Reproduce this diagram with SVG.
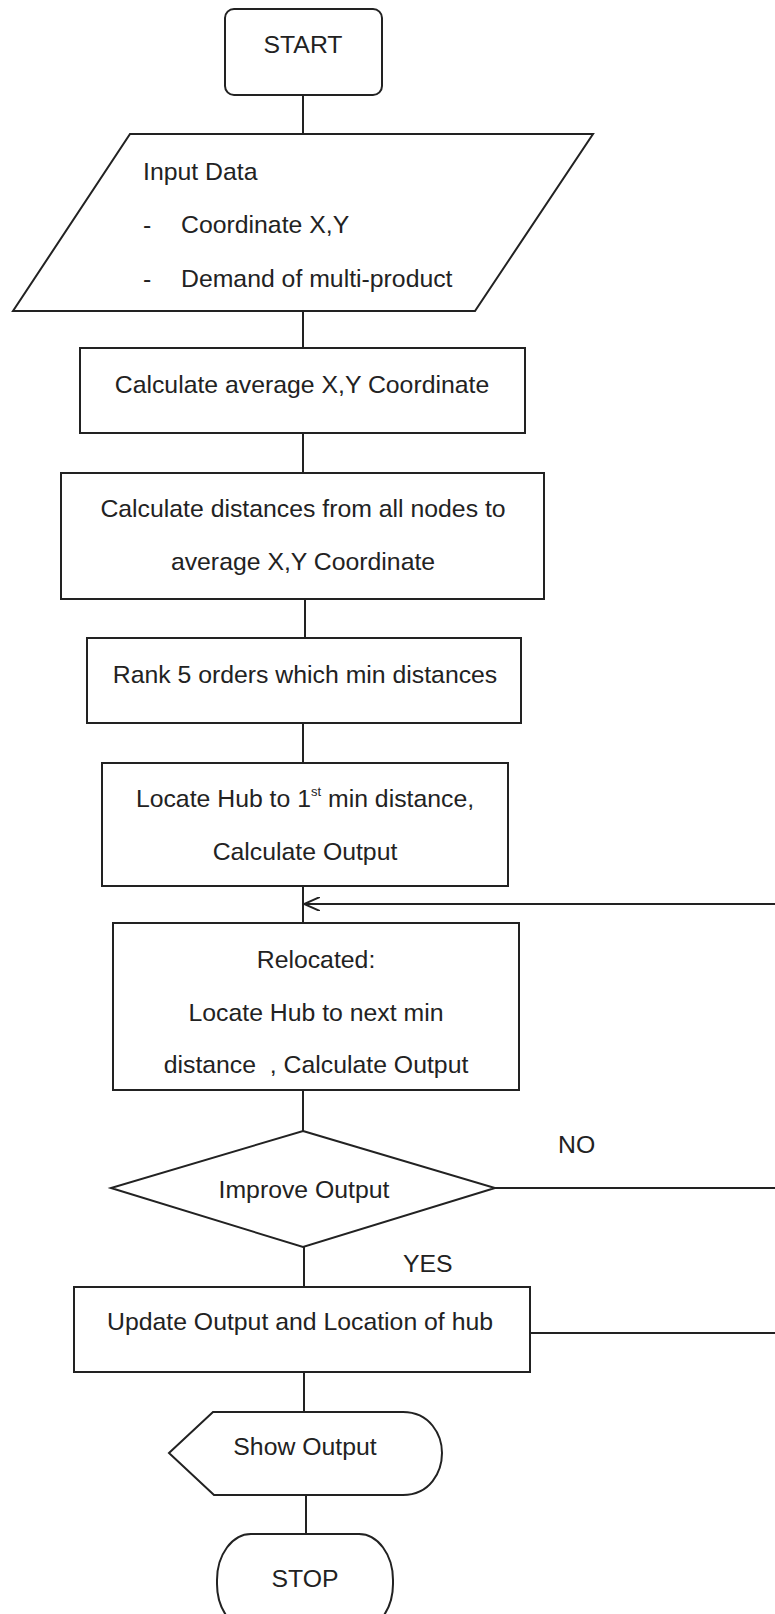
<svg xmlns="http://www.w3.org/2000/svg" width="775" height="1614" viewBox="0 0 775 1614">
<defs>
<style>
.s{fill:#fff;stroke:#222;stroke-width:2}
.c{fill:none;stroke:#222;stroke-width:2}
.t{font-family:"Liberation Sans",Arial,sans-serif;font-size:24.8px;fill:#222}
.m{text-anchor:middle}
</style>
<marker id="ah" viewBox="0 0 16 14" refX="16" refY="7" markerWidth="16" markerHeight="14" markerUnits="userSpaceOnUse" orient="auto">
<path d="M0,0 L16,7 L0,14" fill="none" stroke="#222" stroke-width="2"/>
</marker>
</defs>
<rect width="775" height="1614" fill="#fff"/>
<g id="connectors">
<line class="c" x1="303" y1="95" x2="303" y2="134"/>
<line class="c" x1="303" y1="311" x2="303" y2="348"/>
<line class="c" x1="303" y1="433" x2="303" y2="473"/>
<line class="c" x1="305" y1="599" x2="305" y2="638"/>
<line class="c" x1="303" y1="723" x2="303" y2="763"/>
<line class="c" x1="303" y1="886" x2="303" y2="923"/>
<line class="c" x1="775" y1="904" x2="304" y2="904" marker-end="url(#ah)"/>
<line class="c" x1="303" y1="1090" x2="303" y2="1131"/>
<line class="c" x1="495" y1="1188" x2="775" y2="1188"/>
<text class="t" x="558" y="1153">NO</text>
<line class="c" x1="304" y1="1247" x2="304" y2="1287"/>
<text class="t" x="403" y="1272">YES</text>
<line class="c" x1="530" y1="1333" x2="775" y2="1333"/>
<line class="c" x1="304" y1="1372" x2="304" y2="1412"/>
<line class="c" x1="306" y1="1495" x2="306" y2="1534"/>
</g>
<g id="start">
<rect class="s" x="225" y="9" width="157" height="86" rx="9"/>
<text class="t m" x="303" y="53">START</text>
</g>
<g id="input">
<polygon class="s" points="130,134 593,134 475,311 13,311"/>
<text class="t" x="143" y="180">Input Data</text>
<text class="t" x="143" y="233">-</text>
<text class="t" x="181" y="233">Coordinate X,Y</text>
<text class="t" x="143" y="287">-</text>
<text class="t" x="181" y="287">Demand of multi-product</text>
</g>
<g id="avg">
<rect class="s" x="80" y="348" width="445" height="85"/>
<text class="t m" x="302" y="393">Calculate average X,Y Coordinate</text>
</g>
<g id="dist">
<rect class="s" x="61" y="473" width="483" height="126"/>
<text class="t m" x="303" y="517">Calculate distances from all nodes to</text>
<text class="t m" x="303" y="570">average X,Y Coordinate</text>
</g>
<g id="rank">
<rect class="s" x="87" y="638" width="434" height="85"/>
<text class="t m" x="305" y="683">Rank 5 orders which min distances</text>
</g>
<g id="locate">
<rect class="s" x="102" y="763" width="406" height="123"/>
<text class="t m" x="305" y="807">Locate Hub to 1<tspan font-size="13" dy="-11">st</tspan><tspan dy="11"> min distance,</tspan></text>
<text class="t m" x="305" y="860">Calculate Output</text>
</g>
<g id="relocate">
<rect class="s" x="113" y="923" width="406" height="167"/>
<text class="t m" x="316" y="968">Relocated:</text>
<text class="t m" x="316" y="1021">Locate Hub to next min</text>
<text class="t m" x="316" y="1073">distance&#160; , Calculate Output</text>
</g>
<g id="improve">
<polygon class="s" points="303,1131 495,1188 303,1247 111,1188"/>
<text class="t m" x="304" y="1198">Improve Output</text>
</g>
<g id="update">
<rect class="s" x="74" y="1287" width="456" height="85"/>
<text class="t" x="107" y="1330">Update Output and Location of hub</text>
</g>
<g id="show">
<path class="s" d="M169,1453 L213,1412 L403,1412 C430,1412 442,1435 442,1453 C442,1472 430,1495 403,1495 L214,1495 Z"/>
<text class="t m" x="305" y="1455">Show Output</text>
</g>
<g id="stop">
<rect class="s" x="217" y="1534" width="176" height="96" rx="34" ry="46"/>
<text class="t m" x="305" y="1587">STOP</text>
</g>
</svg>
